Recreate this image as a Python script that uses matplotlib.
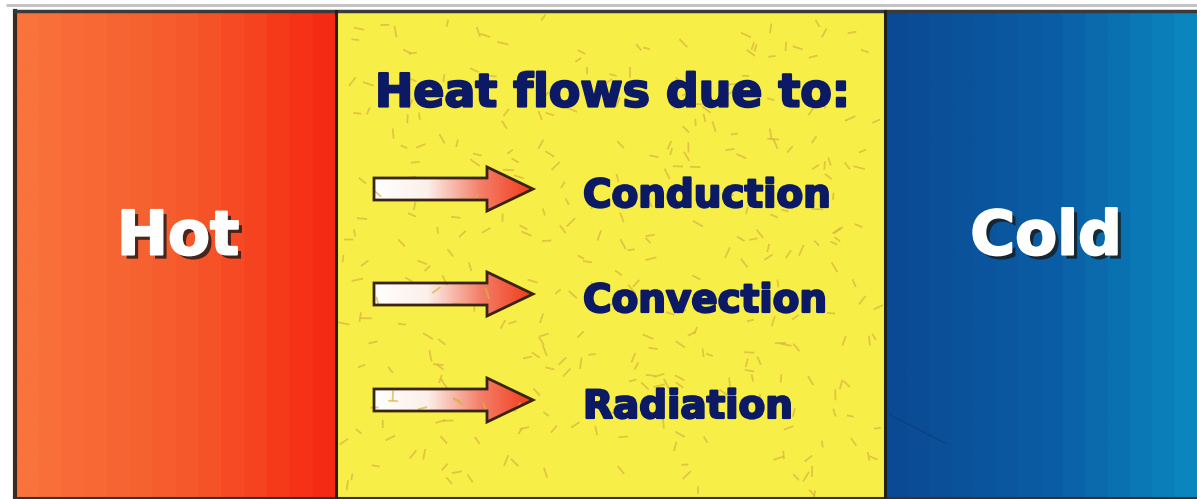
import matplotlib.pyplot as plt
import numpy as np
from matplotlib.colors import LinearSegmentedColormap
from matplotlib.patches import Polygon, Rectangle
import matplotlib.patheffects as pe

# content
side_labels = ["Hot", "Cold"]
title = "Heat flows due to:"
mechanisms = ["Conduction", "Convection", "Radiation"]

hot_colors = ["#f9733d", "#f65a2c", "#f5230e"]
cold_colors = ["#0a4a94", "#0a5da4", "#0a8cc2"]
yellow = "#f7ef47"
navy = "#0c1a66"
font = ['DejaVu Sans']

W, H = 1197, 499
fig = plt.figure(figsize=(W / 100, H / 100), dpi=100)
ax = fig.add_axes([0, 0, 1, 1])
ax.set_xlim(0, W)
ax.set_ylim(H, 0)
ax.axis('off')

# top grey rule
ax.plot([6, W], [5, 5], color="#c4c4c4", lw=2.2, solid_capstyle='butt')

top, bottom = 11, 498
hot_x = (15, 336)
mid_x = (336, 885)
cold_x = (885, W)


def gradient(x0, x1, y0, y1, colors, n=12, clip=None):
    cmap = LinearSegmentedColormap.from_list("g", colors)
    vals = np.floor(np.linspace(0, 1, 400) * n) / n if n else np.linspace(0, 1, 400)
    im = ax.imshow(vals[None, :], cmap=cmap, extent=(x0, x1, y1, y0),
                   aspect='auto', interpolation='bilinear', zorder=1, vmin=0, vmax=1)
    if clip is not None:
        im.set_clip_path(clip)
    return im


gradient(hot_x[0], hot_x[1], top, bottom, hot_colors, n=14)
ax.add_patch(Rectangle((mid_x[0], top), mid_x[1] - mid_x[0], bottom - top,
                       facecolor=yellow, edgecolor='none', zorder=1))
gradient(cold_x[0], cold_x[1], top, bottom, cold_colors, n=14)
ax.set_xlim(0, W)
ax.set_ylim(H, 0)

# speckle texture on the yellow panel
rng = np.random.default_rng(7)
n_sp = 340
sx = rng.uniform(mid_x[0] + 5, mid_x[1] - 5, n_sp)
sy = rng.uniform(top + 5, bottom - 3, n_sp)
ang = rng.uniform(0, np.pi, n_sp)
ln = rng.uniform(5, 10, n_sp)
for x, y, a, l in zip(sx, sy, ang, ln):
    ax.plot([x - l / 2 * np.cos(a), x + l / 2 * np.cos(a)],
            [y - l / 2 * np.sin(a), y + l / 2 * np.sin(a)],
            color="#d9b240", lw=1.3, alpha=0.7, zorder=2)

# frame edges and dividers
ax.plot([hot_x[0], hot_x[0]], [top, bottom], color="#3a2a22", lw=3, zorder=3)
ax.plot([hot_x[0], W], [top, top], color="#3a3a3a", lw=2.5, zorder=3)
ax.plot([hot_x[0], W], [bottom, bottom], color="#3a3030", lw=1.5, zorder=3)
for xd in (mid_x[0], cold_x[0]):
    ax.plot([xd, xd], [top, bottom], color="#222018", lw=2.2, zorder=3)

# faint stray line in the cold panel
ax.plot([890, 945], [415, 443], color="#0a3a7a", lw=1.0, alpha=0.6, zorder=2)

# side labels
shadow = [pe.SimplePatchShadow(offset=(3.0, -3.0), shadow_rgbFace='#1a1a1a', alpha=0.8),
          pe.withStroke(linewidth=1.5, foreground='white')]
ax.text(178, 238, side_labels[0], color='white', fontsize=44, fontweight='bold',
        family=font, ha='center', va='center', zorder=5,
        path_effects=shadow)
ax.text(1046, 238, side_labels[1], color='white', fontsize=44, fontweight='bold',
        family=font, ha='center', va='center', zorder=5,
        path_effects=shadow)

# title
heavy = [pe.withStroke(linewidth=1.6, foreground=navy)]
ax.text(613, 94, title, color=navy, fontsize=33, fontweight='bold',
        family=font, ha='center', va='center', zorder=5, path_effects=heavy)

# arrows + mechanisms
arrow_y = [189, 294, 400]
arrow_cmap = ["#ffffff", "#fbf0ea", "#f4806a", "#f03a1a"]
for yc, name in zip(arrow_y, mechanisms):
    x0, xh, xt = 374, 487, 533
    sh, hh = 11, 22
    pts = [(x0, yc - sh), (xh, yc - sh), (xh, yc - hh), (xt, yc),
           (xh, yc + hh), (xh, yc + sh), (x0, yc + sh)]
    poly = Polygon(pts, closed=True, facecolor='none', edgecolor='#3a2416',
                   lw=2.0, zorder=4, joinstyle='miter')
    ax.add_patch(poly)
    clip = Polygon(pts, closed=True, transform=ax.transData)
    gradient(x0, xt, yc - hh, yc + hh, arrow_cmap, n=0, clip=clip)
    ax.text(583, yc + 7, name, color=navy, fontsize=28, fontweight='bold',
            family=font, ha='left', va='center', zorder=5, path_effects=heavy)

ax.set_xlim(0, W)
ax.set_ylim(H, 0)
fig.savefig("out.png", dpi=100, facecolor='white')
